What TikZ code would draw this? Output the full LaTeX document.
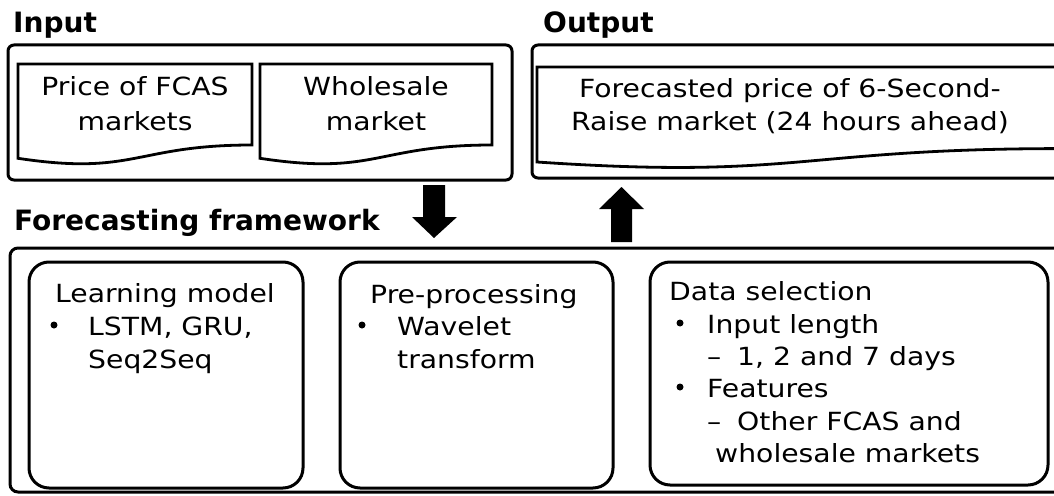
\documentclass[tikz,border=0pt]{standalone}
\usepackage{fontspec}
\setmainfont{DejaVu Sans}[FakeStretch=1.13]
\newfontfamily\headfont{DejaVu Sans}
\begin{document}
\begin{tikzpicture}[x=1pt,y=-1pt,
  panel/.style={draw=black,line width=3pt,rounded corners=6pt},
  frame/.style={draw=black,line width=3pt,rounded corners=20pt},
  docshape/.style={draw=black,line width=2.8pt,line join=miter},
  blockarrow/.style={fill=black,draw=none},
  bulletdot/.style={circle,fill=black,inner sep=0pt,minimum size=7pt},
  head/.style={inner sep=0pt,anchor=base west,font=\headfont\bfseries\fontsize{28}{34}\selectfont},
  txt/.style={inner sep=0pt,anchor=base west,font=\fontsize{25}{33}\selectfont},
  ctxt/.style={inner sep=0pt,anchor=base,font=\fontsize{25}{33}\selectfont}]
\useasboundingbox (0,0) rectangle (1054,495);
\clip (0,0) rectangle (1054,495);

% section titles
\node[head] (tin) at (13,33) {Input};
\node[head] (tout) at (543,33) {Output};
\node[head] (tfw) at (14,230) {Forecasting framework};

% input and output panels
\draw[panel] (8,45) rectangle (512,180);
\draw[panel] (532,45) rectangle (1070,178);

% document shapes
\draw[docshape] (18,64) -- (252,64) -- (252,145)
  .. controls (135,145) and (135,176) .. (18,158.3) -- cycle;
\draw[docshape] (260,64) -- (492,64) -- (492,145)
  .. controls (376,145) and (376,176) .. (260,158.3) -- cycle;
\draw[docshape] (537,67) -- (1062,67) -- (1062,148.6)
  .. controls (799,148.6) and (799,179.7) .. (537,162) -- cycle;

\node[ctxt] (d1a) at (135,95) {Price of FCAS};
\node[ctxt] (d1b) at (135,130) {markets};
\node[ctxt] (d2a) at (376,95) {Wholesale};
\node[ctxt] (d2b) at (376,130) {market};
\node[ctxt] (d3a) at (790,97) {Forecasted price of 6-Second-};
\node[ctxt] (d3b) at (790,130) {Raise market (24 hours ahead)};

% flow arrows
\draw[blockarrow] (423,185) -- (445,185) -- (445,217) -- (457,217)
  -- (434,238) -- (412,217) -- (423,217) -- cycle;
\draw[blockarrow] (611,242) -- (632,242) -- (632,209) -- (644,209)
  -- (621.5,187) -- (599,209) -- (611,209) -- cycle;

% framework panel
\draw[panel,rounded corners=8pt] (10,248) rectangle (1070,492);
\draw[frame] (29,262) rectangle (303,488);
\draw[frame] (340,262) rectangle (613,488);
\draw[frame] (650,262) rectangle (1048,485);

% learning model
\node[txt] (lm0) at (55,302) {Learning model};
\node[bulletdot] (lmb) at (54,325) {};
\node[txt] (lm1) at (88,335) {LSTM, GRU,};
\node[txt] (lm2) at (88,368) {Seq2Seq};

% pre-processing
\node[txt] (pp0) at (370,303) {Pre-processing};
\node[bulletdot] (ppb) at (362,325) {};
\node[txt] (pp1) at (397,335) {Wavelet};
\node[txt] (pp2) at (397,368) {transform};

% data selection
\node[txt] (ds0) at (669,300) {Data selection};
\node[bulletdot] (dsb1) at (680,323) {};
\node[txt] (ds1) at (707,333) {Input length};
\node[txt] (dsd1) at (707,365) {–};
\node[txt] (ds2) at (737,365) {1, 2 and 7 days};
\node[bulletdot] (dsb2) at (680,387) {};
\node[txt] (ds3) at (707,397) {Features};
\node[txt] (dsd2) at (707,430) {–};
\node[txt] (ds4) at (737,430) {Other FCAS and};
\node[txt] (ds5) at (715,462) {wholesale markets};
\end{tikzpicture}
\end{document}
